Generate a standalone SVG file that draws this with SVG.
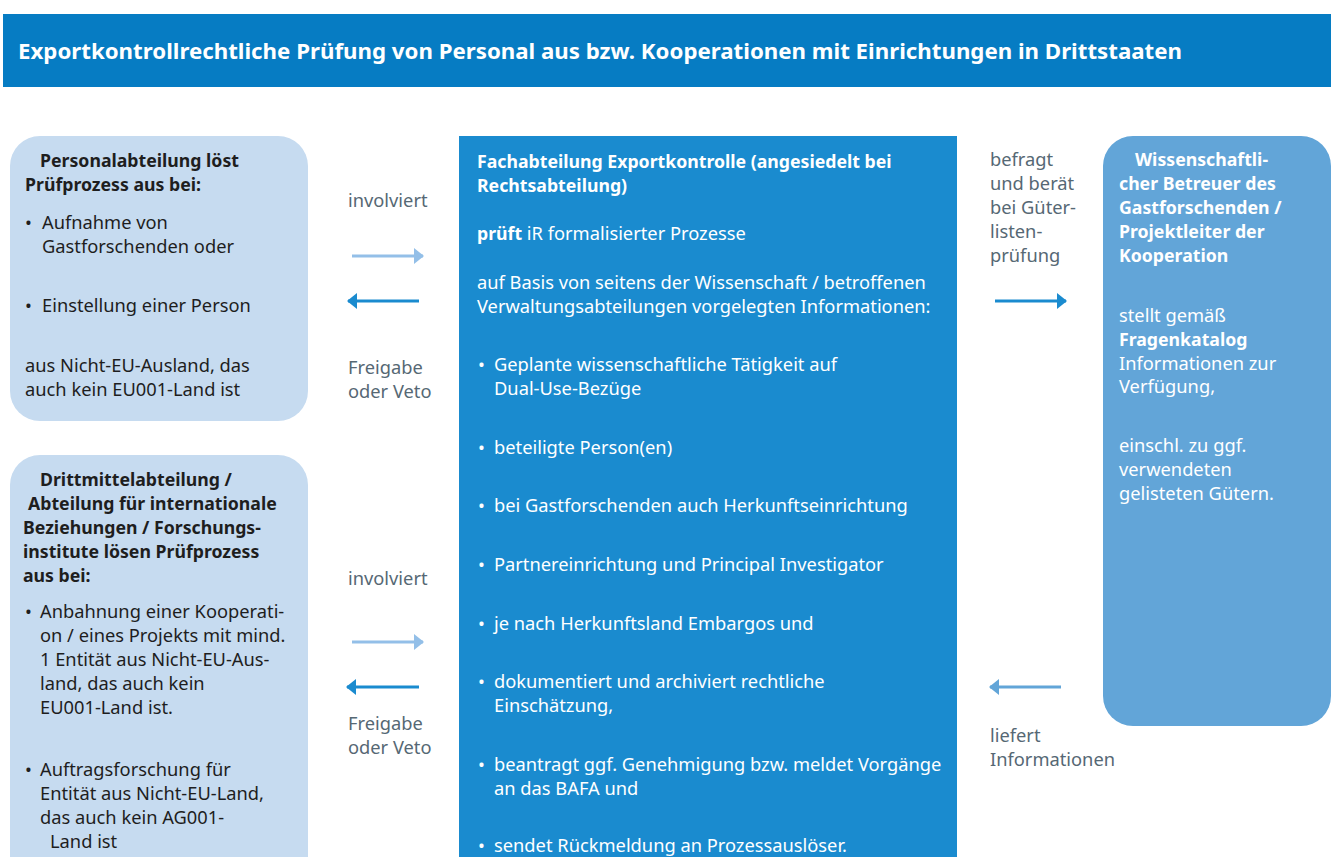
<svg xmlns="http://www.w3.org/2000/svg" width="1333" height="857" viewBox="0 0 1333 857">
<defs>
<style>
text{font-family:"Noto Sans","Open Sans","DejaVu Sans",sans-serif;font-size:18.3px;}
.t{fill:#1e1e1e;}
.w{fill:#ffffff;}
.g{fill:#566874;}
.b{font-weight:bold;font-size:17.7px;}
.title{font-size:22px;font-weight:bold;fill:#fff;}
.la{stroke:#93bfe8;stroke-width:3;fill:none;}
.da{stroke:#1a8bcf;stroke-width:3;fill:none;}
.ma{stroke:#62a5d8;stroke-width:3;fill:none;}
</style>
<marker id="hl" viewBox="0 0 10 16" refX="9" refY="8" markerWidth="10" markerHeight="16" markerUnits="userSpaceOnUse" orient="auto"><path d="M0,0 L10,8 L0,16 Z" fill="#93bfe8"/></marker>
<marker id="hd" viewBox="0 0 10 16" refX="9" refY="8" markerWidth="10" markerHeight="16" markerUnits="userSpaceOnUse" orient="auto"><path d="M0,0 L10,8 L0,16 Z" fill="#1a8bcf"/></marker>
<marker id="hm" viewBox="0 0 10 16" refX="9" refY="8" markerWidth="10" markerHeight="16" markerUnits="userSpaceOnUse" orient="auto"><path d="M0,0 L10,8 L0,16 Z" fill="#62a5d8"/></marker>
</defs>
<rect width="1333" height="857" fill="#fff"/>
<g id="title">
<rect x="3" y="14" width="1328" height="73" fill="#067cc3"/>
<text class="title" x="18" y="59" textLength="1164" lengthAdjust="spacingAndGlyphs">Exportkontrollrechtliche Prüfung von Personal aus bzw. Kooperationen mit Einrichtungen in Drittstaaten</text>
</g>
<g id="personal">
<rect x="10" y="136" width="298" height="285" rx="30" fill="#c6dbf0"/>
<text class="t b" x="40" y="167">Personalabteilung löst</text>
<text class="t b" x="25" y="191">Prüfprozess aus bei:</text>
<text class="t" x="25" y="229">•</text>
<text class="t" x="42" y="229">Aufnahme von</text>
<text class="t" x="42" y="253">Gastforschenden oder</text>
<text class="t" x="25" y="312">•</text>
<text class="t" x="42" y="312">Einstellung einer Person</text>
<text class="t" x="25" y="372">aus Nicht-EU-Ausland, das</text>
<text class="t" x="25" y="396">auch kein EU001-Land ist</text>
</g>
<g id="drittmittel">
<rect x="10" y="455" width="298" height="440" rx="30" fill="#c6dbf0"/>
<text class="t b" x="40" y="486">Drittmittelabteilung /</text>
<text class="t b" x="28" y="510">Abteilung für internationale</text>
<text class="t b" x="23" y="534">Beziehungen / Forschungs-</text>
<text class="t b" x="23" y="558">institute lösen Prüfprozess</text>
<text class="t b" x="23" y="582">aus bei:</text>
<text class="t" x="25" y="618">•</text>
<text class="t" x="40" y="618">Anbahnung einer Kooperati-</text>
<text class="t" x="40" y="642">on / eines Projekts mit mind.</text>
<text class="t" x="40" y="666">1 Entität aus Nicht-EU-Aus-</text>
<text class="t" x="40" y="690">land, das auch kein</text>
<text class="t" x="40" y="714">EU001-Land ist.</text>
<text class="t" x="25" y="776">•</text>
<text class="t" x="40" y="776">Auftragsforschung für</text>
<text class="t" x="40" y="800">Entität aus Nicht-EU-Land,</text>
<text class="t" x="40" y="824">das auch kein AG001-</text>
<text class="t" x="50" y="848">Land ist</text>
</g>
<g id="exportkontrolle">
<rect x="459" y="136" width="498" height="721" fill="#1a8bcf"/>
<text class="w b" x="477" y="168">Fachabteilung Exportkontrolle (angesiedelt bei</text>
<text class="w b" x="477" y="192">Rechtsabteilung)</text>
<text class="w" x="477" y="240"><tspan class="b">prüft</tspan> iR formalisierter Prozesse</text>
<text class="w" x="477" y="289">auf Basis von seitens der Wissenschaft / betroffenen</text>
<text class="w" x="477" y="313">Verwaltungsabteilungen vorgelegten Informationen:</text>
<text class="w" x="478" y="371">•</text>
<text class="w" x="494" y="371">Geplante wissenschaftliche Tätigkeit auf</text>
<text class="w" x="494" y="395">Dual-Use-Bezüge</text>
<text class="w" x="478" y="454">•</text>
<text class="w" x="494" y="454">beteiligte Person(en)</text>
<text class="w" x="478" y="512">•</text>
<text class="w" x="494" y="512">bei Gastforschenden auch Herkunftseinrichtung</text>
<text class="w" x="478" y="571">•</text>
<text class="w" x="494" y="571">Partnereinrichtung und Principal Investigator</text>
<text class="w" x="478" y="630">•</text>
<text class="w" x="494" y="630">je nach Herkunftsland Embargos und</text>
<text class="w" x="478" y="688">•</text>
<text class="w" x="494" y="688">dokumentiert und archiviert rechtliche</text>
<text class="w" x="494" y="712">Einschätzung,</text>
<text class="w" x="478" y="771">•</text>
<text class="w" x="494" y="771">beantragt ggf. Genehmigung bzw. meldet Vorgänge</text>
<text class="w" x="494" y="795">an das BAFA und</text>
<text class="w" x="478" y="852">•</text>
<text class="w" x="494" y="852">sendet Rückmeldung an Prozessauslöser.</text>
</g>
<g id="betreuer">
<rect x="1103" y="136" width="228" height="590" rx="30" fill="#62a5d8"/>
<text class="w b" x="1135" y="166">Wissenschaftli-</text>
<text class="w b" x="1119" y="190">cher Betreuer des</text>
<text class="w b" x="1119" y="214">Gastforschenden /</text>
<text class="w b" x="1119" y="238">Projektleiter der</text>
<text class="w b" x="1119" y="262">Kooperation</text>
<text class="w" x="1119" y="322">stellt gemäß</text>
<text class="w b" x="1119" y="346">Fragenkatalog</text>
<text class="w" x="1119" y="370">Informationen zur</text>
<text class="w" x="1119" y="393">Verfügung,</text>
<text class="w" x="1119" y="452">einschl. zu ggf.</text>
<text class="w" x="1119" y="476">verwendeten</text>
<text class="w" x="1119" y="500">gelisteten Gütern.</text>
</g>
<g id="connectors">
<line class="la" x1="352" y1="256" x2="423" y2="256" marker-end="url(#hl)"/>
<line class="da" x1="419" y1="301" x2="348" y2="301" marker-end="url(#hd)"/>
<line class="la" x1="352" y1="642" x2="423" y2="642" marker-end="url(#hl)"/>
<line class="da" x1="419" y1="687" x2="347" y2="687" marker-end="url(#hd)"/>
<line class="da" x1="995" y1="301" x2="1066" y2="301" marker-end="url(#hd)"/>
<line class="ma" x1="1061" y1="687" x2="990" y2="687" marker-end="url(#hm)"/>
<text class="g" x="348" y="207">involviert</text>
<text class="g" x="348" y="374">Freigabe</text>
<text class="g" x="348" y="398">oder Veto</text>
<text class="g" x="348" y="585">involviert</text>
<text class="g" x="348" y="730">Freigabe</text>
<text class="g" x="348" y="754">oder Veto</text>
<text class="g" x="990" y="166">befragt</text>
<text class="g" x="990" y="190">und berät</text>
<text class="g" x="990" y="214">bei Güter-</text>
<text class="g" x="990" y="238">listen-</text>
<text class="g" x="990" y="262">prüfung</text>
<text class="g" x="990" y="742">liefert</text>
<text class="g" x="990" y="766">Informationen</text>
</g>
</svg>
